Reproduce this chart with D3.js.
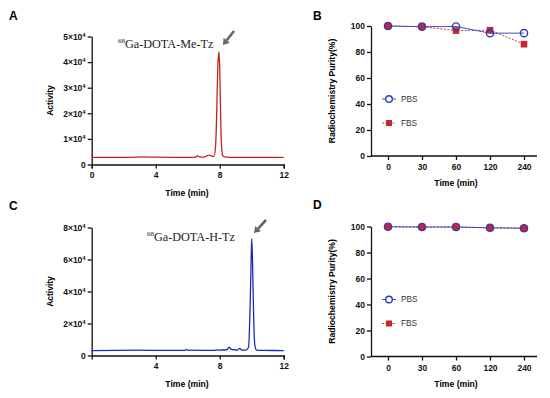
<!DOCTYPE html>
<html>
<head>
<meta charset="utf-8">
<script src="https://cdn.jsdelivr.net/npm/d3@7"></script>
<style>
  body { margin: 0; background: #fff; }
  svg { display: block; font-family: "Liberation Sans", Arial, sans-serif; }
  .axis path, .axis line { stroke: #111; stroke-width: 1.3; }
  .axis text { font-size: 8.5px; font-weight: bold; fill: #111; }
</style>
</head>
<body>
<svg id="chart" width="550" height="398"></svg>
<script>
// chromatogram A: [time (min), activity]
const traceA = [
  [0, 2800], [2, 2800], [3.3, 2950], [4, 2850], [6, 2800], [6.5, 2900], [6.6, 3500], [6.7, 3000],
  [7.0, 2900], [7.2, 3400], [7.35, 3700], [7.5, 3300], [7.65, 3200], [7.75, 8000], [7.82, 22000],
  [7.88, 38000], [7.95, 44000], [8.0, 38000], [8.05, 22000], [8.1, 9000], [8.18, 3600], [8.3, 3000],
  [9, 2800], [12, 2800]
];
// chromatogram C
const traceC = [
  [0, 3100], [3, 3300], [4, 3200], [5.8, 3200], [5.9, 3800], [6.0, 3300], [7.7, 3200], [7.8, 3600],
  [7.9, 3300], [8.45, 3600], [8.6, 5200], [8.7, 4000], [8.85, 3600], [8.95, 3800], [9.05, 3200],
  [9.25, 4400], [9.35, 3500], [9.6, 3300], [9.8, 5000], [9.9, 30000], [9.97, 62000], [10.0, 73000],
  [10.05, 60000], [10.12, 25000], [10.2, 6000], [10.3, 3400], [10.6, 3200], [12, 3100]
];
const timeTicksA = [0, 4, 8, 12];
const timeTicksC = [4, 8, 12];
const activityTicksA = [0, 1, 2, 3, 4, 5];
const activityTicksC = [0, 2, 4, 6, 8];

// stability B / D
const timepoints = ["0", "30", "60", "120", "240"];
const pbsB = [100, 99.5, 99.6, 94.5, 94.5];
const fbsB = [100, 99.4, 96.5, 96.8, 86];
const pbsD = [99.8, 99.6, 99.6, 99.0, 98.7];
const fbsD = [99.8, 99.6, 99.6, 99.0, 98.7];
const purityTicks = [0, 20, 40, 60, 80, 100];

const svg = d3.select("#chart");

function panelLabel(txt, x, y) {
  svg.append("text").attr("x", x).attr("y", y).text(txt)
    .style("font-size", "12px").style("font-weight", "bold");
}

function chromatogram(opt) {
  const x = d3.scaleLinear().domain([0, 12]).range([91.7, 283.7]);
  const y = d3.scaleLinear().domain([0, opt.ymax]).range([opt.y0, opt.y1]);
  const g = svg.append("g");

  // y axis
  const ya = g.append("g").attr("class", "axis")
    .attr("transform", `translate(${x(0)},0)`)
    .call(d3.axisLeft(y).tickValues(opt.yticks.map(d => d * 1e4)).tickSize(4).tickSizeOuter(0).tickFormat(""));
  ya.selectAll(".tick").append("text")
    .attr("x", -6).attr("dy", "0.32em").attr("text-anchor", "end")
    .each(function(d) {
      const t = d3.select(this);
      const v = d / 1e4;
      if (v === 0) { t.text("0"); return; }
      t.append("tspan").text(v + "×10");
      t.append("tspan").text("4").attr("dy", "-0.5em").style("font-size", "6px");
    });

  // x axis
  g.append("g").attr("class", "axis")
    .attr("transform", `translate(0,${opt.y0})`)
    .call(d3.axisBottom(x).tickValues(opt.xticks).tickSize(4).tickSizeOuter(4).tickPadding(3));

  g.append("text").attr("x", 187).attr("y", opt.y0 + 31).attr("text-anchor", "middle")
    .text("Time (min)").style("font-size", "8.6px").style("font-weight", "bold");
  g.append("text").attr("transform", `translate(53,${(opt.y0 + opt.y1) / 2}) rotate(-90)`)
    .attr("text-anchor", "middle").text("Activity").style("font-size", "8.5px").style("font-weight", "bold");

  g.append("path").datum(opt.data)
    .attr("d", d3.line().x(d => x(d[0])).y(d => y(d[1])).curve(d3.curveMonotoneX))
    .attr("fill", "none").attr("stroke", opt.color).attr("stroke-width", 1.3);

  // compound label
  const lab = g.append("text").attr("x", opt.lx).attr("y", opt.ly)
    .style("font-family", "'Liberation Serif', 'Times New Roman', serif").style("font-size", "12.2px").style("fill", "#222");
  lab.append("tspan").text("68").attr("dy", "-0.45em").style("font-size", "7px").style("fill", "#222");
  lab.append("tspan").text(opt.name).attr("dy", "0.45em");

  // arrow
  const [ax, ay, bx, by] = opt.arrow;
  const ang = Math.atan2(by - ay, bx - ax);
  const hl = 6, hw = 4;
  const px = bx - hl * Math.cos(ang), py = by - hl * Math.sin(ang);
  g.append("line").attr("x1", ax).attr("y1", ay).attr("x2", px).attr("y2", py)
    .attr("stroke", "#666").attr("stroke-width", 2.6);
  g.append("polygon").attr("fill", "#666").attr("points", [
    [bx, by],
    [px + hw * Math.sin(ang), py - hw * Math.cos(ang)],
    [px - hw * Math.sin(ang), py + hw * Math.cos(ang)]
  ].map(p => p.join(",")).join(" "));
}

function stability(opt) {
  const x = d3.scalePoint().domain(timepoints).range([388, 524]);
  const y = d3.scaleLinear().domain([0, 100]).range([opt.y0, opt.y0 - 130]);
  const g = svg.append("g");

  g.append("g").attr("class", "axis").attr("transform", "translate(371,0)")
    .call(d3.axisLeft(y).tickValues(purityTicks).tickSize(4).tickSizeOuter(0).tickPadding(2));

  const xa = g.append("g").attr("class", "axis").attr("transform", `translate(0,${opt.y0})`)
    .call(d3.axisBottom(x).tickSize(4).tickPadding(4));
  xa.select(".domain").remove();
  g.append("line").attr("x1", 371).attr("x2", 537).attr("y1", opt.y0).attr("y2", opt.y0)
    .attr("stroke", "#111").attr("stroke-width", 1.3);

  g.append("text").attr("x", 456).attr("y", opt.y0 + 30).attr("text-anchor", "middle")
    .text("Time (min)").style("font-size", "8.6px").style("font-weight", "bold");
  g.append("text").attr("transform", `translate(335,${opt.y0 - 65}) rotate(-90)`)
    .attr("text-anchor", "middle").text("Radiochemistry Purity(%)")
    .style("font-size", "8.6px").style("font-weight", "bold");

  const line = d3.line().x((d, i) => x(timepoints[i])).y(d => y(d));
  const red = "#c62828", blue = "#2b3cbf";

  g.append("path").datum(opt.fbs).attr("d", line).attr("fill", "none")
    .attr("stroke", red).attr("stroke-width", 0.9).attr("stroke-dasharray", "2,1.5");
  g.append("path").datum(opt.pbs).attr("d", line).attr("fill", "none")
    .attr("stroke", blue).attr("stroke-width", 0.9);

  g.selectAll(".sq").data(opt.fbs).enter().append("rect")
    .attr("x", (d, i) => x(timepoints[i]) - 3.3).attr("y", d => y(d) - 3.3)
    .attr("width", 6.6).attr("height", 6.6).attr("fill", red);
  g.selectAll(".ci").data(opt.pbs).enter().append("circle")
    .attr("cx", (d, i) => x(timepoints[i])).attr("cy", d => y(d)).attr("r", 3.6)
    .attr("fill", "none").attr("stroke", blue).attr("stroke-width", 1.4);

  // legend
  const lg = g.append("g");
  const ly1 = opt.y0 - 57, ly2 = opt.y0 - 33;
  lg.append("line").attr("x1", 382).attr("x2", 396).attr("y1", ly1).attr("y2", ly1).attr("stroke", blue).attr("stroke-width", 0.9);
  lg.append("circle").attr("cx", 389).attr("cy", ly1).attr("r", 3.3).attr("fill", "#fff").attr("stroke", blue).attr("stroke-width", 1.4);
  lg.append("line").attr("x1", 382).attr("x2", 396).attr("y1", ly2).attr("y2", ly2).attr("stroke", red).attr("stroke-width", 0.9).attr("stroke-dasharray", "2,1.5");
  lg.append("rect").attr("x", 386).attr("y", ly2 - 3).attr("width", 6).attr("height", 6).attr("fill", red);
  lg.append("text").attr("x", 401).attr("y", ly1).attr("dy", "0.35em").text("PBS").style("font-size", "8.3px").style("fill", "#333");
  lg.append("text").attr("x", 401).attr("y", ly2).attr("dy", "0.35em").text("FBS").style("font-size", "8.3px").style("fill", "#333");
}

panelLabel("A", 9, 20);
panelLabel("B", 313, 20);
panelLabel("C", 9, 210);
panelLabel("D", 313, 209);

chromatogram({ data: traceA, ymax: 5e4, y0: 164.5, y1: 36.5, yticks: activityTicksA, xticks: timeTicksA,
  color: "#c4221f", name: "Ga-DOTA-Me-Tz", lx: 118, ly: 46, arrow: [234, 31, 223, 45] });
chromatogram({ data: traceC, ymax: 8e4, y0: 355.5, y1: 227.5, yticks: activityTicksC, xticks: timeTicksC,
  color: "#1b2db5", name: "Ga-DOTA-H-Tz", lx: 147, ly: 239, arrow: [266, 220, 254, 233] });

stability({ y0: 156, pbs: pbsB, fbs: fbsB });
stability({ y0: 356.5, pbs: pbsD, fbs: fbsD });
</script>
</body>
</html>
